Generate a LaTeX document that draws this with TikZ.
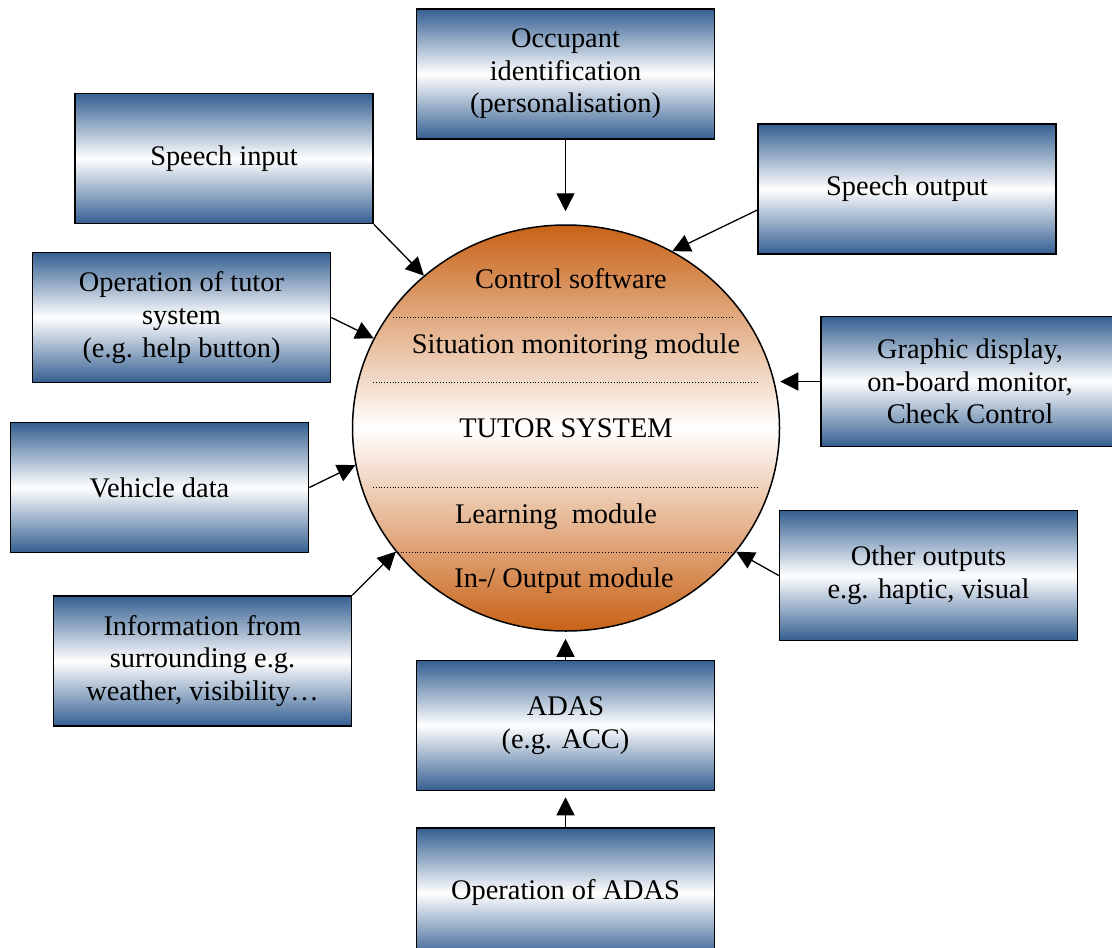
\documentclass[tikz,border=0pt]{standalone}
\usepackage{fontspec}
\setmainfont{Liberation Serif}
\usetikzlibrary{arrows.meta,shapes.geometric}
\definecolor{boxblue}{RGB}{52,95,145}
\definecolor{tutororange}{RGB}{200,98,22}
\begin{document}
\begin{tikzpicture}[x=0.5pt,y=-0.5pt,
  font=\fontsize{14.2}{16.3}\selectfont,
  inbox/.style={draw,line width=0.75pt,minimum width=149pt,minimum height=65pt,inner sep=0pt,align=center,
    top color=boxblue,bottom color=boxblue,middle color=white},
  feed/.style={-{Triangle[length=9pt,width=9pt]},line width=0.65pt}]
  \useasboundingbox (0,0) rectangle (1112,947);
  \node[ellipse,draw,line width=0.75pt,minimum width=213.5pt,minimum height=203pt,
    top color=tutororange,bottom color=tutororange,middle color=white] (tutor) at (566,428) {TUTOR SYSTEM};
  \foreach \y/\a/\b in {317/393/733, 382/373/757, 487/373/757, 552/395/737}
    \draw[densely dotted] (\a,\y) -- (\b,\y);
  \node[anchor=base] (ctrl) at (571,288) {Control software};
  \node[anchor=base] (monitor) at (576,353) {Situation monitoring module};
  \node[anchor=base] (learn) at (556,523) {Learning\ \ module};
  \node[anchor=base] (io) at (564,587) {In-/ Output module};
  \node[inbox] (occupant) at (565.5,74) {Occupant\\identification\\(personalisation)};
  \node[inbox] (speechin) at (224,158.5) {Speech input};
  \node[inbox] (speechout) at (907,189) {Speech output};
  \node[inbox] (operate) at (181.5,317.5) {Operation of tutor\\system\\(e.g. help button)};
  \node[inbox] (display) at (970,381.5) {Graphic display,\\on-board monitor,\\Check Control};
  \node[inbox] (vehicle) at (159.5,487.5) {Vehicle data};
  \node[inbox] (other) at (928.5,575.5) {Other outputs\\e.g. haptic, visual};
  \node[inbox] (surround) at (202.5,661) {Information from\\surrounding e.g.\\weather, visibility…};
  \node[inbox] (adas) at (565.5,725.5) {ADAS\\(e.g. ACC)};
  \node[inbox] (opadas) at (565.5,893) {Operation of ADAS};
  \draw[feed,shorten >=6.5pt] (occupant.south) -- (occupant.south |- tutor.north);
  \draw[feed] (speechin.south east) -- (tutor.133);
  \draw[feed] (operate.east) -- (tutor.155);
  \draw[feed] (speechout.188) -- (tutor.59);
  \draw[feed] (display.west) -- (display.west -| tutor.east);
  \draw[feed] (vehicle.east) -- (tutor.190);
  \draw[feed] (surround.north east) -- (tutor.216);
  \draw[feed] (other.west) -- (tutor.324);
  \draw[feed,shorten >=3.5pt] (adas.north) -- (adas.north |- tutor.south);
  \draw[feed,shorten >=3pt] (opadas.north) -- (adas.south);
\end{tikzpicture}
\end{document}
